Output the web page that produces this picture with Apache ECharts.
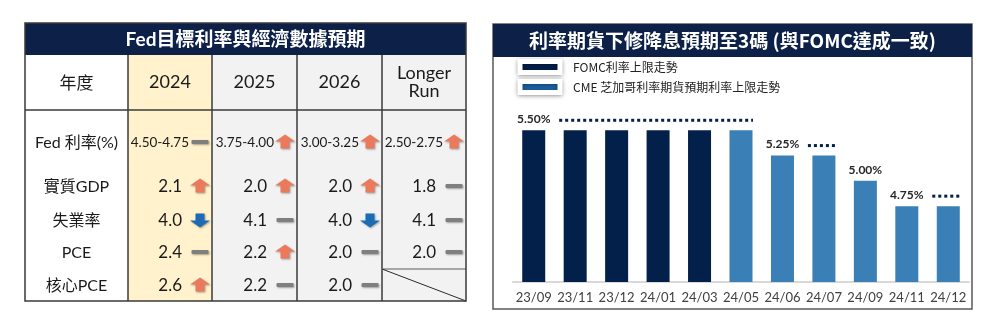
<!DOCTYPE html>
<html>
<head>
<meta charset="utf-8">
<script src="https://cdn.jsdelivr.net/npm/echarts@6/dist/echarts.min.js"></script>
<style>
  html, body { margin: 0; padding: 0; background: #ffffff; }
  #chart { width: 1000px; height: 334px; }
</style>
</head>
<body>
<div id="chart"></div>
<script>
// ---- Fed projections table ----
const tableTitle = 'Fed目標利率與經濟數據預期';
const headerLabel = '年度';
const yearHeaders = ['2024', '2025', '2026', 'Longer\nRun'];
const rowLabels = ['Fed 利率(%)', '實質GDP', '失業率', 'PCE', '核心PCE'];
const values2024 = ['4.50-4.75', '2.1', '4.0', '2.4', '2.6'];
const trend2024 = ['flat', 'up', 'down', 'flat', 'up'];
const values2025 = ['3.75-4.00', '2.0', '4.1', '2.2', '2.2'];
const trend2025 = ['up', 'up', 'flat', 'up', 'flat'];
const values2026 = ['3.00-3.25', '2.0', '4.0', '2.0', '2.0'];
const trend2026 = ['up', 'up', 'down', 'flat', 'flat'];
const valuesLonger = ['2.50-2.75', '1.8', '4.1', '2.0', null];
const trendLonger = ['up', 'flat', 'flat', 'flat', null];

// ---- Rate futures bar chart ----
const chartTitle = '利率期貨下修降息預期至3碼 (與FOMC達成一致)';
const fomcName = 'FOMC利率上限走勢';
const cmeName = 'CME 芝加哥利率期貨預期利率上限走勢';
const meetings = ['23/09', '23/11', '23/12', '24/01', '24/03', '24/05', '24/06', '24/07', '24/09', '24/11', '24/12'];
const fomcUpper = [5.50, 5.50, 5.50, 5.50, 5.50, null, null, null, null, null, null];
const cmeUpper = [null, null, null, null, null, 5.50, 5.25, 5.25, 5.00, 4.75, 4.75];
const labelledMeetings = ['23/09', '24/06', '24/09', '24/11'];
const heldSpans = [['23/11', '24/05', 5.50], ['24/07', '24/07', 5.25], ['24/12', '24/12', 4.75]];

// ---- styling ----
const FONT = 'Lato, "Noto Sans CJK TC", sans-serif';
const CJK = '"Noto Sans CJK TC", Lato, sans-serif';
const NAVY = '#0c2048';
const BAR_DARK = '#03204a';
const BAR_LIGHT = '#3a7fb5';
const UP = '#ea7a5b';
const DOWN = '#1c6bb4';
const FLAT = '#7f7f7f';

// table layout
const cols = [25, 128, 212, 297, 382, 466];
const colFill = ['#ffffff', '#fff2cc', '#f2f2f2', '#f2f2f2', '#f2f2f2'];
const titleTop = 23, headTop = 55, bodyTop = 110, tableBottom = 301;
const rowY = [143, 187, 221, 253, 286];

function trendIcon(kind, cx, cy) {
  const shadow = { shadowBlur: 2, shadowColor: 'rgba(0,0,0,0.35)', shadowOffsetY: 1, shadowOffsetX: 1 };
  if (kind === 'flat') {
    return { type: 'rect', shape: { x: cx - 8.5, y: cy - 2, width: 17, height: 4, r: 1 },
             style: Object.assign({ fill: FLAT }, shadow) };
  }
  const d = kind === 'up' ? 1 : -1;
  const pts = [
    [cx - 10, cy - d * 0.5], [cx, cy - d * 7.5], [cx + 10, cy - d * 0.5],
    [cx + 4.5, cy - d * 0.5], [cx + 4.5, cy + d * 6.5], [cx - 4.5, cy + d * 6.5], [cx - 4.5, cy - d * 0.5]
  ];
  return { type: 'polygon', shape: { points: pts },
           style: Object.assign({ fill: kind === 'up' ? UP : DOWN }, shadow) };
}

function buildTable() {
  const els = [];
  const colValues = [values2024, values2025, values2026, valuesLonger];
  const colTrends = [trend2024, trend2025, trend2026, trendLonger];
  // column backgrounds
  for (let c = 0; c < 5; c++) {
    els.push({ type: 'rect', shape: { x: cols[c], y: headTop, width: cols[c + 1] - cols[c], height: tableBottom - headTop },
               style: { fill: colFill[c] } });
  }
  // title bar
  els.push({ type: 'rect', shape: { x: cols[0], y: titleTop, width: cols[5] - cols[0], height: headTop - titleTop },
             style: { fill: NAVY } });
  els.push({ type: 'text', style: { x: (cols[0] + cols[5]) / 2, y: (titleTop + headTop) / 2 + 1, text: tableTitle,
             fill: '#ffffff', font: 'bold 19px ' + FONT, align: 'center', verticalAlign: 'middle' } });
  // header row
  const headY = (headTop + bodyTop) / 2;
  els.push({ type: 'text', style: { x: (cols[0] + cols[1]) / 2, y: headY, text: headerLabel, fill: '#1a1a1a',
             font: '17px ' + CJK, align: 'center', verticalAlign: 'middle' } });
  yearHeaders.forEach((h, i) => {
    els.push({ type: 'text', style: { x: (cols[i + 1] + cols[i + 2]) / 2, y: headY, text: h, fill: '#1a1a1a',
               font: '18px ' + FONT, lineHeight: 18, align: 'center', verticalAlign: 'middle' } });
  });
  // row labels
  rowLabels.forEach((r, j) => {
    els.push({ type: 'text', style: { x: (cols[0] + cols[1]) / 2, y: rowY[j], text: r, fill: '#1a1a1a',
               font: '16px ' + FONT, align: 'center', verticalAlign: 'middle' } });
  });
  // values and trend icons
  colValues.forEach((vals, i) => {
    const right = cols[i + 2];
    vals.forEach((v, j) => {
      if (v === null) return;
      const isRange = j === 0;
      els.push({ type: 'text', style: { x: right - (isRange ? 23 : 30), y: rowY[j], text: v, fill: '#1a1a1a',
                 font: (isRange ? '13.5px ' : '17px ') + FONT, align: 'right', verticalAlign: 'middle' } });
      els.push(trendIcon(colTrends[i][j], right - 12, rowY[j] - 1));
    });
  });
  // grid lines
  const line = (x1, y1, x2, y2, stroke, w) => ({ type: 'line', shape: { x1, y1, x2, y2 }, style: { stroke, lineWidth: w } });
  els.push(line(cols[0], bodyTop, cols[5], bodyTop, '#3a3a3a', 1.5));
  for (let c = 1; c < 5; c++) els.push(line(cols[c], headTop, cols[c], tableBottom, '#3a3a3a', 1.5));
  els.push(line(cols[4], 269, cols[5], 269, '#8c8c8c', 1.5));
  els.push(line(cols[4], 269, cols[5], tableBottom, '#2a2a2a', 1));
  els.push({ type: 'rect', shape: { x: cols[0], y: titleTop, width: cols[5] - cols[0], height: tableBottom - titleTop },
             style: { fill: 'none', stroke: '#3a3a3a', lineWidth: 1.5 } });
  return els;
}

function buildChartFrame() {
  return [
    { type: 'rect', shape: { x: 493, y: 24, width: 479, height: 285 },
      style: { fill: 'none', stroke: '#5a5a5a', lineWidth: 1.5 } },
    { type: 'rect', shape: { x: 493, y: 24, width: 479, height: 33 }, style: { fill: NAVY } },
    { type: 'text', style: { x: 732.5, y: 41, text: chartTitle, fill: '#ffffff', font: 'bold 19px ' + CJK,
      align: 'center', verticalAlign: 'middle' } }
  ];
}

const chart = echarts.init(document.getElementById('chart'), null, { renderer: 'canvas' });

const option = {
  animation: false,
  backgroundColor: '#ffffff',
  graphic: { elements: buildTable().concat(buildChartFrame()) },
  legend: {
    orient: 'vertical',
    left: 517.5,
    top: 59,
    padding: 0,
    itemGap: 4,
    itemWidth: 40,
    itemHeight: 11,
    icon: 'rect',
    selectedMode: false,
    itemStyle: { borderColor: '#ffffff', borderWidth: 5, shadowBlur: 4, shadowColor: 'rgba(0,0,0,0.35)', shadowOffsetY: 1 },
    textStyle: { fontSize: 12, fontFamily: CJK, color: '#222222', lineHeight: 16, padding: [0, 0, 0, 8] },
    data: [
      { name: fomcName, itemStyle: { color: BAR_DARK } },
      { name: cmeName, itemStyle: { color: '#1b63a6' } }
    ]
  },
  grid: { left: 513, right: 31, top: 105, bottom: 52, containLabel: false },
  xAxis: {
    type: 'category',
    data: meetings,
    axisLine: { lineStyle: { color: '#d9d9d9', width: 2 } },
    axisTick: { show: false },
    axisLabel: { color: '#404040', fontSize: 13, fontFamily: FONT, margin: 9, interval: 0 }
  },
  yAxis: { type: 'value', min: 4, max: 5.75, show: false, splitLine: { show: false } },
  series: [
    {
      name: fomcName, type: 'bar', data: fomcUpper, barWidth: 23, barGap: '-100%',
      itemStyle: { color: BAR_DARK },
      label: {
        show: true, position: 'top', distance: 5, fontSize: 12, fontWeight: 'bold', fontFamily: FONT, color: '#262626',
        formatter: p => labelledMeetings.includes(p.name) && p.value != null ? p.value.toFixed(2) + '%' : ''
      }
    },
    {
      name: cmeName, type: 'bar', data: cmeUpper, barWidth: 23,
      itemStyle: { color: BAR_LIGHT },
      label: {
        show: true, position: 'top', distance: 5, fontSize: 12, fontWeight: 'bold', fontFamily: FONT, color: '#262626',
        formatter: p => labelledMeetings.includes(p.name) && p.value != null ? p.value.toFixed(2) + '%' : ''
      }
    },
    {
      // dotted markers showing meetings where the upper bound is held
      type: 'custom',
      silent: true,
      data: heldSpans.map(s => [meetings.indexOf(s[0]), meetings.indexOf(s[1]), s[2]]),
      encode: { x: [0, 1], y: 2 },
      renderItem: (params, api) => {
        const a = api.coord([api.value(0), api.value(2)]);
        const b = api.coord([api.value(1), api.value(2)]);
        return {
          type: 'line',
          shape: { x1: a[0] - 16, y1: a[1] - 10, x2: b[0] + 12, y2: a[1] - 10 },
          style: { stroke: BAR_DARK, lineWidth: 3, lineDash: [3, 3] }
        };
      }
    }
  ]
};

chart.setOption(option);
</script>
</body>
</html>
